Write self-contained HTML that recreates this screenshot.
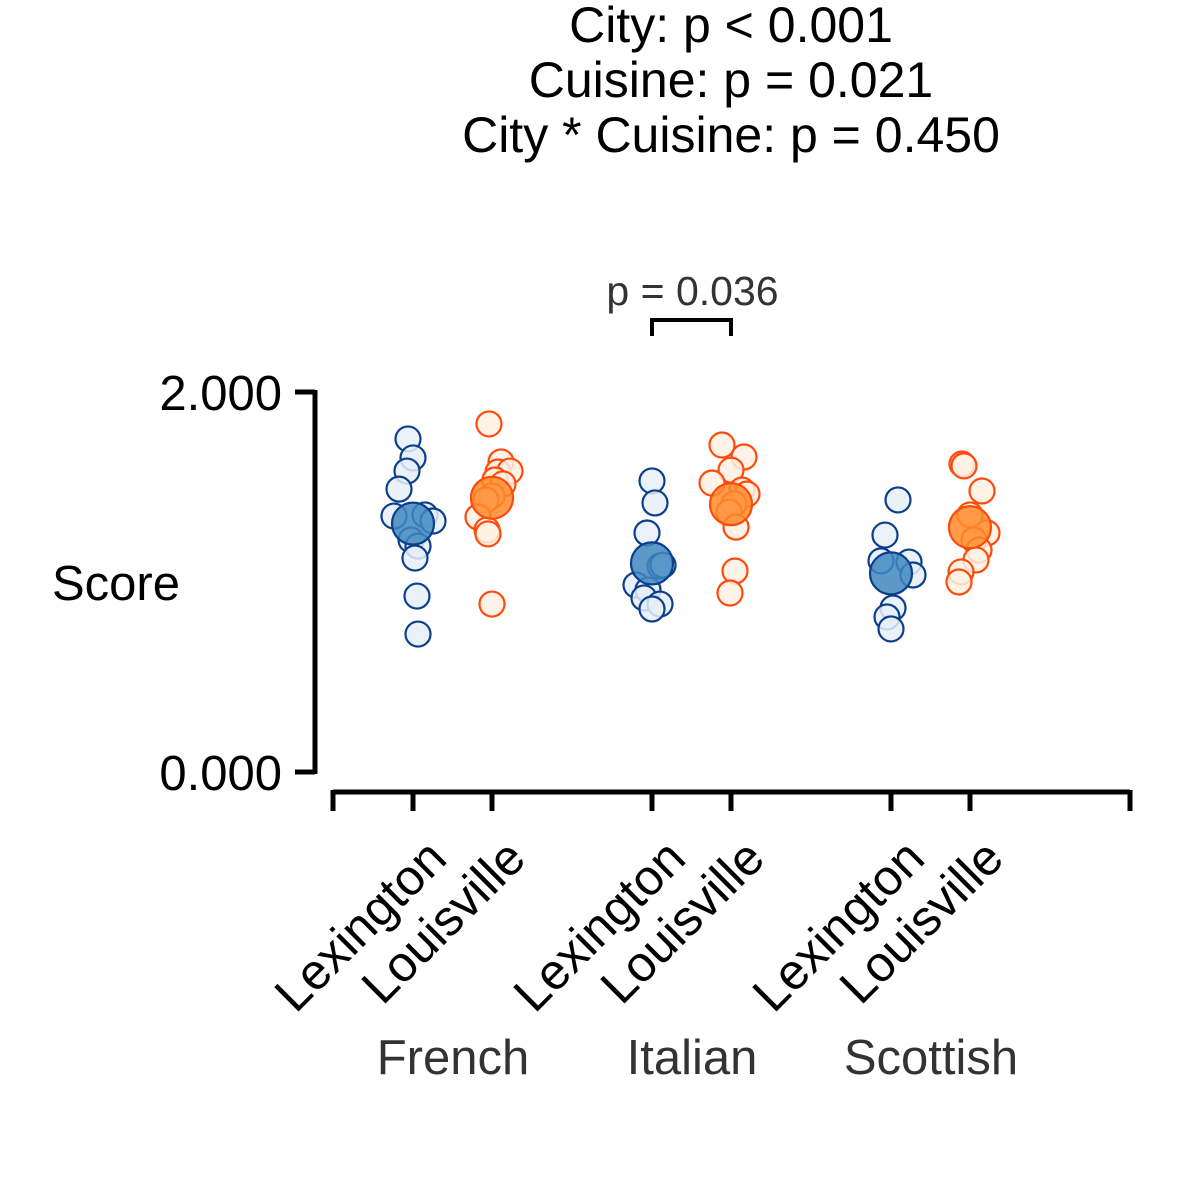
<!DOCTYPE html>
<html><head><meta charset="utf-8"><style>
body{margin:0;background:#fff}
svg{display:block;font-family:"Liberation Sans",sans-serif}
</style></head><body>
<svg id="chart" width="1179" height="1204" viewBox="0 0 1179 1204" xmlns="http://www.w3.org/2000/svg">
<g font-size="50" text-anchor="middle" fill="#000">
<text x="731" y="42">City: p &lt; 0.001</text>
<text x="731" y="97">Cuisine: p = 0.021</text>
<text x="731" y="152">City * Cuisine: p = 0.450</text>
</g>
<g id="axes"></g>
<g id="marks"></g>
</svg>
<script>
const cuisines = ["French","Italian","Scottish"];
const cities = ["Lexington","Louisville"];
const yTicks = [0, 2];
const yTickLabels = ["0.000","2.000"];
const frenchLexValues = [1.753,1.653,1.584,1.489,1.347,1.353,1.321,1.221,1.189,1.126,0.926,0.726];
const frenchLouValues = [1.832,1.632,1.579,1.584,1.537,1.516,1.453,1.432,1.342,1.274,1.253,0.884];
const italianLexValues = [1.532,1.416,1.258,1.084,1.089,0.984,0.958,0.916,0.884,0.858];
const italianLouValues = [1.721,1.658,1.589,1.521,1.484,1.463,1.411,1.368,1.289,1.058,0.942];
const scottishLexValues = [1.432,1.247,1.111,1.105,1.037,0.863,0.816,0.753];
const scottishLouValues = [1.621,1.611,1.479,1.353,1.258,1.221,1.168,1.116,1.053,1.0];
const frenchLexJitter = [-5,0,-6,-14,-19,12,20,-2,5,2,4,5];
const frenchLouJitter = [-3,9,6,18,3,11,0,-6,-14,-5,-4,0];
const italianLexJitter = [0,3,-5,8,11,-16,-4,-8,8,0];
const italianLouJitter = [-9,13,0,-19,11,16,3,-2,5,4,-1];
const scottishLexJitter = [7,-6,-10,18,22,2,-4,0];
const scottishLouJitter = [-8,-6,12,0,17,4,9,6,-9,-11];
const sigPair = {group:1, label:"p = 0.036"};

const NS="http://www.w3.org/2000/svg";
const yScale = v => 772 - v*190;
const groupCenter = g => [413,652,891][g];
const cityX = (g,c) => groupCenter(g) + (c===0?0:79);
function mk(tag, attrs, parent){const e=document.createElementNS(NS,tag);for(const k in attrs)e.setAttribute(k,attrs[k]);parent.appendChild(e);return e;}
const axes=document.getElementById('axes'), marks=document.getElementById('marks');

let yl=mk('line',{x1:315,y1:yScale(2)-2,x2:315,y2:yScale(0)+2,stroke:'#000','stroke-width':5},axes);


yTicks.forEach((t,i)=>{
  const l=mk('line',{x1:295,y1:yScale(t),x2:315,y2:yScale(t),stroke:'#000','stroke-width':5},axes);
  
  
  const tx=mk('text',{x:282,y:yScale(t)+18,'text-anchor':'end','font-size':49,fill:'#000'},axes);
  
  
  tx.textContent=yTickLabels[i];
});
const yt=mk('text',{x:116,y:600,'text-anchor':'middle','font-size':49,fill:'#000'},axes);


yt.textContent='Score';

const xl=mk('line',{x1:333,y1:792,x2:1130,y2:792,stroke:'#000','stroke-width':5},axes);


[333,1130].forEach(x=>{const l=mk('line',{x1:x,y1:790,x2:x,y2:811,stroke:'#000','stroke-width':5},axes);
  
  });
cuisines.forEach((cu,g)=>{
  cities.forEach((ci,c)=>{
    const x=cityX(g,c);
    const l=mk('line',{x1:x,y1:790,x2:x,y2:811,stroke:'#000','stroke-width':5},axes);
    
    
    const ax=x+36, ay=861;
    const t=mk('text',{x:ax,y:ay,'text-anchor':'end','font-size':50,fill:'#000',transform:`rotate(-45 ${ax} ${ay})`},axes);
    
    
    t.textContent=ci;
  });
  const gl=mk('text',{x:groupCenter(g)+40,y:1074,'text-anchor':'middle','font-size':49,fill:'#333'},axes);
  
  
  gl.textContent=cu;
});

const series=[[frenchLexValues,frenchLexJitter,0,0],[frenchLouValues,frenchLouJitter,0,1],
 [italianLexValues,italianLexJitter,1,0],[italianLouValues,italianLouJitter,1,1],
 [scottishLexValues,scottishLexJitter,2,0],[scottishLouValues,scottishLouJitter,2,1]];
const style=[{stroke:'#0b3f8c',fill:'#e6eff8',mean:'#3f87bf'},{stroke:'#ff4a0a',fill:'#fff1e4',mean:'#ff8a2a'}];
series.forEach(([vals,jit,g,c])=>{
  const s=style[c], cx=cityX(g,c);
  vals.forEach((v,i)=>{
    const p=mk('circle',{cx:cx+(jit[i]||0),cy:yScale(v),r:12.5,fill:s.fill,'fill-opacity':0.85,stroke:s.stroke,'stroke-width':2.2},marks);
    
    
  });
  const mean=vals.reduce((a,b)=>a+b,0)/vals.length;
  const m=mk('circle',{cx:cx,cy:yScale(mean),r:21,fill:s.mean,'fill-opacity':0.85,stroke:s.stroke,'stroke-width':2.2},marks);
  
  
});

const x1=cityX(sigPair.group,0), x2=cityX(sigPair.group,1);
const br=mk('path',{d:`M${x1} 336 V320 H${x2} V336`,fill:'none',stroke:'#000','stroke-width':4},axes);


const bt=mk('text',{x:(x1+x2)/2+1,y:305,'text-anchor':'middle','font-size':41,fill:'#333'},axes);


bt.textContent=sigPair.label;
</script>
</body></html>
